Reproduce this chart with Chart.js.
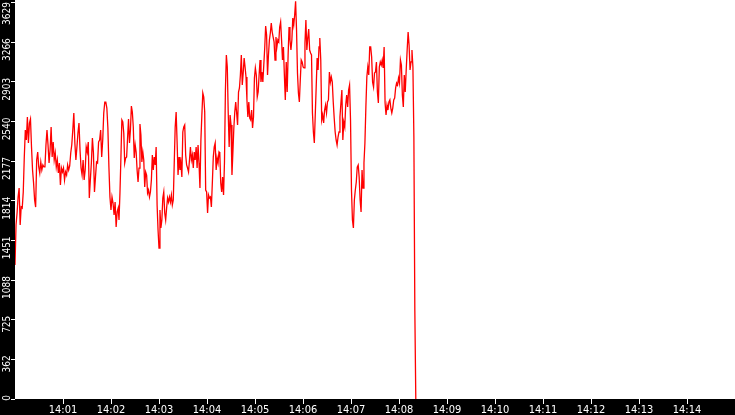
<!DOCTYPE html>
<html>
<head>
<meta charset="utf-8">
<script src="https://cdn.jsdelivr.net/npm/chart.js@4/dist/chart.umd.min.js"></script>
<style>
  html, body { margin: 0; padding: 0; background: #000; overflow: hidden; }
  canvas { display: block; }
</style>
</head>
<body>
<canvas id="chart" width="735" height="415"></canvas>
<script>
const xTickLabels = ['14:01', '14:02', '14:03', '14:04', '14:05', '14:06', '14:07',
                     '14:08', '14:09', '14:10', '14:11', '14:12', '14:13', '14:14'];
const yTickValues = [0, 362.9, 725.8, 1088.7, 1451.6, 1814.5, 2177.4, 2540.3, 2903.2, 3266.1, 3629];
const yTickLabels = ['0', '362', '725', '1088', '1451', '1814', '2177', '2540', '2903', '3266', '3629'];

// readings, split in four runs
const run1 = [
  1226, 1593, 1703, 1849, 1931, 1593, 1757, 1748, 1895, 2215,
  2462, 2371, 2581, 2343, 2526, 2563, 2307, 2096, 1977, 1821,
  1757, 2188, 2261, 2124, 2069, 2169, 2096, 2142, 2124, 2124,
  2325, 2462, 2325, 2160, 2279, 2490, 2215, 2352, 2188, 2252,
  2124, 2188, 2069, 2160, 1959, 2114, 2078, 2114, 2005, 2078,
  2050, 2142, 2096, 2133, 2252, 2325, 2462, 2618, 2343, 2188,
  2307, 2435, 2526, 2279, 2114, 2050, 2188, 2005, 2096, 2307,
  2261, 2352, 1840, 2005, 2160, 2389, 2252, 1895, 2032, 2169,
  2160, 2352, 2371, 2462, 2215, 2371, 2618, 2718, 2718, 2663,
  2480, 2124, 1849, 1730, 1849, 1794, 1684, 1803, 1574, 1712,
  1748
];
const run2 = [
  1638, 1885, 2206, 2554, 2535, 2435, 2160, 2206, 2215, 2389,
  2563, 2343, 2462, 2682, 2627, 2490, 2206, 2325, 2261, 2096,
  1986, 2114, 2517, 2416, 2169, 2261, 2188, 1940, 2078, 2050,
  1885, 1913, 1849, 1895, 2004, 2233, 2096, 2215, 2142, 2307,
  1776, 1547, 1382, 1730, 1565, 1638, 1840, 1895, 1702, 1638,
  1748, 1840, 1803, 1849, 1803, 1867, 1776, 1821, 2160, 2490,
  2627, 2352, 2050, 2215, 2096, 2160, 2032, 2444, 2490, 2508,
  2233, 2142, 2114, 2078, 2188, 2307, 2188, 2233, 2114, 2261,
  2188, 2307, 2114, 2325, 2160, 1931, 2371, 2599, 2801, 2764,
  2627, 1913, 1895, 1702, 1867, 1840, 1849, 1757, 1977, 2215,
  2307, 2343, 2096, 2206, 2160, 2261
];
const run3 = [
  2252, 1977, 1895, 2032, 1867, 2169, 2828, 3149, 3039, 2618,
  2307, 2599, 2508, 2050, 2261, 2480, 2627, 2718, 2618, 2508,
  2810, 2847, 2966, 3149, 2874, 2984, 3121, 3039, 2947, 2737,
  2581, 2718, 2572, 2554, 2645, 2480, 2581, 2938, 3030, 2966,
  2764, 2810, 2966, 3103, 2901, 2993, 2901, 3057, 3213, 3414,
  3332, 2966, 3149, 3286, 3350, 3441, 3359, 3313, 3268, 3103,
  3313, 3222, 3286, 3268, 3405, 3451, 3286, 3103, 3222, 2966,
  2737, 3085, 2810, 3149, 3405, 3286, 3194, 3286, 3487, 3423,
  3515, 3640, 3377, 2984, 2801, 2718, 2920, 3103, 3085, 3039,
  3030, 3258, 3469, 3194, 3304, 3387, 3194, 3167, 3149, 2618,
  2444, 2343, 2599, 2856, 3121, 3011, 3222
];
const run4 = [
  3304, 3103, 2554, 2599, 2526, 2645, 2691, 2618, 2718, 2737,
  2993, 2901, 2947, 2901, 2718, 2572, 2444, 2371, 2325, 2398,
  2444, 2581, 2709, 2828, 2371, 2535, 2490, 2691, 2782, 2673,
  2828, 2874, 2554, 1913, 1638, 1565, 1821, 1913, 1986, 2123,
  2142, 2032, 1821, 1712, 2096, 1931, 2160, 2343, 2673, 2947,
  3039, 2966, 3222, 3222, 3130, 2901, 2856, 2984, 2993, 3085,
  2810, 2709, 3039, 3085, 3057, 3103, 3030, 3222, 2709, 2599,
  2691, 2645, 2718, 2737, 2663, 2618, 2663, 2737, 2755, 2847,
  2892, 2874, 2938, 2892, 3103, 3057, 2782, 2673, 2966, 2810,
  3011, 3194, 3359, 3240, 3011, 3085, 3194, 3039, 2398, 805,
  0
];
const runStarts = ['14:00:00', '14:02:10', '14:04:16', '14:06:21'];
const runEnds   = ['14:02:09', '14:04:15', '14:06:20', '14:08:21'];
const runs = [run1, run2, run3, run4];

// seconds since 14:00
function toSec(t) {
  const p = t.split(':').map(Number);
  return (p[0] - 14) * 3600 + p[1] * 60 + (p[2] || 0);
}

const points = [];
runs.forEach((run, k) => {
  const a = toSec(runStarts[k]);
  const b = toSec(runEnds[k]);
  run.forEach((v, i) => points.push({ x: a + (b - a) * i / (run.length - 1), y: v }));
});

const labelFont = '"DejaVu Sans Condensed", "DejaVu Sans Mono", monospace';

const frame = {
  id: 'frame',
  beforeDraw(chart) {
    const ctx = chart.ctx, a = chart.chartArea;
    ctx.save();
    ctx.fillStyle = '#000';
    ctx.fillRect(0, 0, chart.width, chart.height);
    ctx.fillStyle = '#fff';
    ctx.fillRect(a.left, a.top, a.right - a.left, a.bottom - a.top);
    ctx.restore();
  },
  afterDraw(chart) {
    const ctx = chart.ctx, y = chart.scales.y;
    ctx.save();
    ctx.fillStyle = '#fff';
    ctx.font = '10px ' + labelFont;
    ctx.textAlign = 'right';
    ctx.textBaseline = 'alphabetic';
    yTickValues.forEach((v, i) => {
      const py = Math.max(y.getPixelForValue(v) - 4, 2);
      ctx.save();
      ctx.translate(9.5, py);
      ctx.rotate(-Math.PI / 2);
      ctx.fillText(yTickLabels[i], 0, 0);
      ctx.restore();
    });
    ctx.restore();
  }
};

new Chart(document.getElementById('chart'), {
  type: 'line',
  data: {
    datasets: [{
      data: points,
      borderColor: '#ff0000',
      borderWidth: 1.3,
      pointRadius: 0,
      tension: 0,
      fill: false
    }]
  },
  options: {
    responsive: false,
    animation: false,
    devicePixelRatio: 1,
    layout: { padding: 0 },
    plugins: { legend: { display: false }, tooltip: { enabled: false } },
    scales: {
      x: {
        type: 'linear',
        min: 0,
        max: 900,
        afterBuildTicks: s => { s.ticks = xTickLabels.map(l => ({ value: toSec(l) })); },
        afterFit: s => { s.height = 16; },
        ticks: {
          color: '#fff',
          font: { family: labelFont, size: 11 },
          padding: 0,
          maxRotation: 0,
          autoSkip: false,
          callback: (v, i) => xTickLabels[i]
        },
        grid: { drawOnChartArea: false, tickColor: '#fff', tickLength: 5, tickWidth: 1 },
        border: { display: false }
      },
      y: {
        min: 0,
        max: 3652,
        afterBuildTicks: s => { s.ticks = yTickValues.map(v => ({ value: v })); },
        afterFit: s => { s.width = 15; },
        ticks: { display: false },
        grid: { drawOnChartArea: false, tickColor: '#fff', tickLength: 4, tickWidth: 1 },
        border: { display: false }
      }
    }
  },
  plugins: [frame]
});
</script>
</body>
</html>
